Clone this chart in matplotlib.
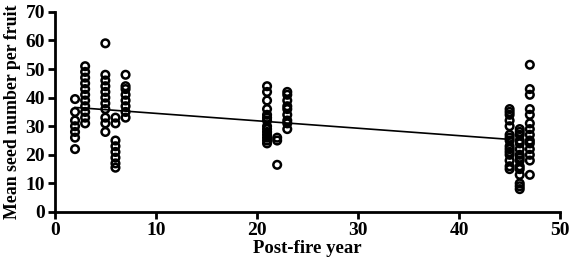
import matplotlib.pyplot as plt
import numpy as np

# Mean seed number per fruit, grouped by post-fire year
years = [2, 3, 5, 6, 7, 21, 22, 23, 45, 46, 47]
seeds = [
    [39.5, 35, 32, 30, 28, 26, 22],
    [51, 49, 47, 45, 43, 41, 39, 37, 35, 33, 31],
    [59, 48, 46, 44, 42, 40, 38, 36, 33, 31, 28],
    [33, 31, 25, 23, 21, 19, 17, 15.5],
    [48, 44, 43, 41, 39, 37, 35, 33],
    [44, 42, 39, 36, 34, 33, 32, 30, 29, 28, 27, 26, 25, 24],
    [26, 25, 16.5],
    [42, 41, 39, 37, 36, 34, 32, 31, 29],
    [36, 35, 34, 32, 30, 27, 26, 25, 23, 22, 21, 20, 18, 16, 15],
    [29, 28, 27, 25, 24, 22, 20, 19, 18, 16, 15, 13, 10, 9, 8],
    [51.5, 43, 41, 36, 34, 31, 29, 27, 25, 24, 22, 20, 18, 13],
]
# fitted regression line
fit_x = [2, 45]
fit_intercept = 37.1
fit_slope = -0.26

plt.rcParams['font.family'] = ['Liberation Serif', 'DejaVu Serif']
fig = plt.figure(figsize=(5.71, 2.64), dpi=100)
ax = fig.add_axes([0.096, 0.197, 0.885, 0.758])

xs = np.concatenate([[yr] * len(v) for yr, v in zip(years, seeds)])
ys = np.concatenate(seeds)
ax.scatter(xs, ys, s=30, facecolors='none', edgecolors='black', linewidths=1.8, zorder=3)

fx = np.array(fit_x)
ax.plot(fx, fit_intercept + fit_slope * fx, color='black', linewidth=1.2, zorder=2)

ax.set_xlim(0, 50)
ax.set_ylim(0, 70)
ax.set_xticks([0, 10, 20, 30, 40, 50])
ax.set_yticks(range(0, 71, 10))
for s in ['top', 'right']:
    ax.spines[s].set_visible(False)
for s in ['left', 'bottom']:
    ax.spines[s].set_linewidth(2)
ax.tick_params(width=2, length=5, labelsize=14, pad=2)
for lab in ax.get_xticklabels() + ax.get_yticklabels():
    lab.set_fontweight('bold')
ax.set_xlabel('Post-fire year', fontsize=13.5, fontweight='bold', labelpad=1)
ax.set_ylabel('Mean seed number per fruit', fontsize=12.8, fontweight='bold', labelpad=3)

fig.savefig('out.png', dpi=100)
